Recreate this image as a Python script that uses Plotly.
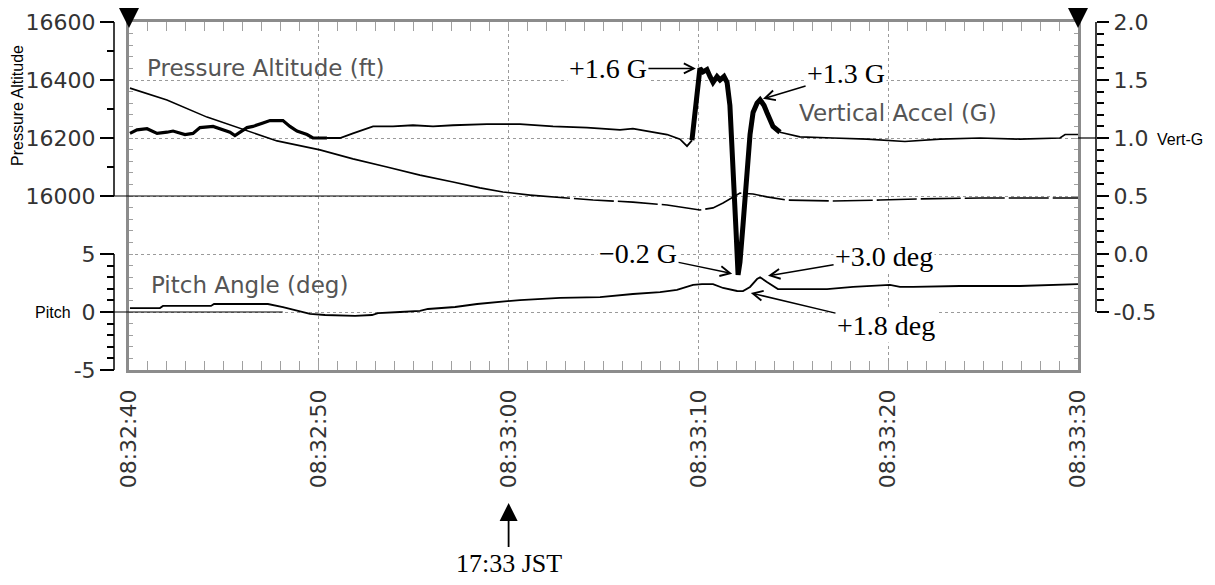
import plotly.graph_objects as go

# ---------------- data (time in seconds after 08:32:40) ----------------
tick_seconds = [0, 10, 20, 30, 40, 50]
tick_labels = ["08:32:40", "08:32:50", "08:33:00", "08:33:10", "08:33:20", "08:33:30"]

# Vertical acceleration (G)
g_t = [0.05, 0.42, 0.95, 1.48, 2.00, 2.32, 2.95, 3.37, 3.74, 4.43, 5.32, 5.58, 6.22, 6.53, 7.06, 7.43,
       8.11, 8.48, 8.85, 9.38, 9.69, 10.43, 11.12, 11.80, 12.86, 13.91, 14.96, 16.02, 17.07, 18.86,
       20.60, 22.34, 24.13, 25.87, 26.55, 28.35, 29.03, 29.40, 29.66, 29.82, 29.98, 30.08, 30.24,
       30.45, 30.61, 30.77, 30.98, 31.14, 31.35, 31.51, 31.66, 31.82, 31.98, 32.09, 32.19, 32.35,
       32.56, 32.72, 32.88, 33.09, 33.25, 33.46, 33.61, 33.77, 33.93, 34.30, 35.35, 37.09, 38.88,
       40.88, 42.73, 44.84, 46.94, 49.05, 49.32, 50.00]
g_val = [1.04, 1.07, 1.08, 1.04, 1.05, 1.06, 1.03, 1.04, 1.09, 1.10, 1.05, 1.02, 1.09, 1.10, 1.13, 1.15,
         1.15, 1.10, 1.06, 1.03, 1.00, 1.00, 1.00, 1.04, 1.10, 1.10, 1.11, 1.10, 1.11, 1.12,
         1.12, 1.10, 1.09, 1.07, 1.08, 1.03, 0.99, 0.93, 0.98, 1.24, 1.54, 1.60, 1.57,
         1.59, 1.53, 1.48, 1.53, 1.50, 1.53, 1.48, 1.28, 0.81, 0.21, -0.18, -0.07, 0.25,
         0.75, 1.03, 1.22, 1.30, 1.33, 1.28, 1.22, 1.16, 1.10, 1.05, 1.01, 1.00, 0.99,
         0.97, 0.99, 1.00, 0.99, 1.00, 1.03, 1.03]

# Pitch angle (deg)
p_t = [0.05, 1.63, 1.79, 4.32, 4.48, 7.32, 8.11, 8.85, 9.54, 10.33, 11.91, 12.80, 13.12, 14.28, 15.33,
       15.75, 17.18, 18.34, 19.44, 20.60, 22.71, 24.82, 26.55, 27.98, 28.87, 29.72, 30.19, 30.77,
       31.30, 32.04, 32.35, 32.72, 33.09, 33.25, 33.61, 34.19, 36.78, 38.15, 40.09, 40.62, 41.31,
       43.78, 46.94, 49.05, 50.00]
p_val = [0.34, 0.34, 0.52, 0.52, 0.69, 0.69, 0.43, 0.09, -0.17, -0.26, -0.34, -0.26, -0.09, 0.00, 0.09,
         0.26, 0.43, 0.69, 0.86, 1.03, 1.21, 1.29, 1.55, 1.72, 1.90, 2.33, 2.41, 2.41,
         2.07, 1.81, 1.80, 2.16, 2.84, 3.00, 2.59, 1.98, 1.98, 2.16, 2.33, 2.16, 2.16,
         2.24, 2.24, 2.33, 2.41]

# Pressure altitude (ft)
a_t = [0.05, 2.00, 4.11, 5.85, 7.80, 10.06, 11.80, 13.59, 15.33, 17.07, 18.49, 19.70, 21.13, 22.34,
       24.45, 26.55, 28.35, 30.08, 30.77, 31.30, 31.82, 32.19, 32.88, 33.61, 34.67, 37.09, 39.57,
       41.68, 44.84, 48.00, 50.00]
a_val = [16372, 16331, 16272, 16234, 16190, 16159, 16128, 16100, 16072, 16048, 16028, 16014, 16003, 15997,
         15986, 15979, 15969, 15952, 15959, 15976, 15997, 16010, 16007, 15997, 15986, 15983, 15986,
         15990, 15993, 15993, 15993]

alt_ticks = [16000, 16200, 16400, 16600]
alt_minor = [16100, 16300, 16500]
pitch_ticks = [-5, 0, 5]
pitch_minor = [-4, -3, -2, -1, 1, 2, 3, 4]
g_ticks = [-0.5, 0.0, 0.5, 1.0, 1.5, 2.0]
g_ticktext = ["-0.5", "0.0", "0.5", "1.0", "1.5", "2.0"]

# ---------------- geometry (page pixels; the page body adds an 8 px offset) ----------------
OFF = 8
W, H = 1215 - OFF, 585 - OFF
PL, PR = 100, 1110          # paper extent (page px)
XL, XR = 129, 1078          # plot area (page px)
YT, YB = 22, 370
X0 = (XL - PL) / (PR - PL)
X1 = (XR - PL) / (PR - PL)
POS_L = (114 - PL) / (PR - PL)
POS_R = (1096 - PL) / (PR - PL)

ALT_RANGE = [15400, 16600]
PITCH_RANGE = [-5, 25]
G_RANGE = [-1.0, 2.0]
T_RANGE = [0, 50]


def py(px):
    return (YB - px) / (YB - YT)


def px_x(px):
    return (px - PL) / (PR - PL)


def val_paper(v, rng):
    return (v - rng[0]) / (rng[1] - rng[0])


def t_paper(t):
    return X0 + (t - T_RANGE[0]) / (T_RANGE[1] - T_RANGE[0]) * (X1 - X0)


def seg(ts, vs, lo, hi):
    idx = [i for i, t in enumerate(ts) if lo <= t <= hi]
    return [ts[i] for i in idx], [vs[i] for i in idx]


fig = go.Figure()

# frame axis dummy
fig.add_trace(go.Scatter(x=[None], y=[None], yaxis="y4", hoverinfo="skip", showlegend=False))

# altitude
for lo, hi, dash in [(0, 21.13, "solid"), (21.13, 50, "40px,4px")]:
    xs, ys = seg(a_t, a_val, lo, hi)
    fig.add_trace(go.Scatter(x=xs, y=ys, mode="lines", yaxis="y",
                             line=dict(color="black", width=1.6, dash=dash),
                             hoverinfo="skip", showlegend=False))

# pitch
fig.add_trace(go.Scatter(x=p_t, y=p_val, mode="lines", yaxis="y3",
                         line=dict(color="black", width=1.8), hoverinfo="skip", showlegend=False))

# vertical G (thicker where the trace is dense)
for lo, hi, w in [(0, 10.43, 3.2), (10.43, 29.66, 1.8), (29.66, 34.30, 5.0), (34.30, 50, 1.6)]:
    xs, ys = seg(g_t, g_val, lo, hi)
    fig.add_trace(go.Scatter(x=xs, y=ys, mode="lines", yaxis="y2",
                             line=dict(color="black", width=w),
                             hoverinfo="skip", showlegend=False))

tickfont = dict(family="DejaVu Sans", size=22, color="#333333")
grid = dict(showgrid=True, gridcolor="#9a9a9a", griddash="dot", gridwidth=1)

fig.update_layout(
    template="none",
    width=W, height=H,
    margin=dict(l=PL - OFF, r=W - (PR - OFF), t=YT - OFF, b=H - (YB - OFF)),
    plot_bgcolor="white", paper_bgcolor="white",
    showlegend=False,
    xaxis=dict(domain=[X0, X1], range=T_RANGE, tickmode="array", tickvals=tick_seconds,
               ticktext=tick_labels, tickangle=-90, ticks="inside", ticklen=9,
               tickcolor="#a0a0a0", tickwidth=1, showline=True, linecolor="#8c8c8c",
               linewidth=2.5, mirror="ticks", zeroline=False, tickfont=tickfont,
               ticklabelstandoff=8, automargin=False,
               minor=dict(dtick=1, tick0=0, ticks="inside", ticklen=9, tickcolor="#a0a0a0",
                          tickwidth=1, showgrid=False),
               **grid),
    yaxis=dict(domain=[0, 1], range=ALT_RANGE, anchor="free", position=POS_L, side="left",
               tickmode="array", tickvals=alt_ticks, ticktext=[str(v) for v in alt_ticks],
               ticks="outside", ticklen=14, tickwidth=1.5, tickcolor="black", showline=False,
               zeroline=False, tickfont=tickfont, automargin=False,
               minor=dict(tickmode="array", tickvals=alt_minor, ticks="outside", ticklen=7,
                          tickwidth=1.5, tickcolor="black", showgrid=False),
               **grid),
    yaxis3=dict(overlaying="y", range=PITCH_RANGE, anchor="free", position=POS_L, side="left",
                tickmode="array", tickvals=pitch_ticks, ticktext=[str(v) for v in pitch_ticks],
                ticks="outside", ticklen=14, tickwidth=1.5, tickcolor="black", showline=False,
                zeroline=False, tickfont=tickfont, automargin=False,
                minor=dict(tickmode="array", tickvals=pitch_minor, ticks="outside", ticklen=7,
                           tickwidth=1.5, tickcolor="black", showgrid=False),
                **grid),
    yaxis2=dict(overlaying="y", range=G_RANGE, anchor="free", position=POS_R, side="right",
                tickmode="array", tickvals=g_ticks, ticktext=g_ticktext,
                ticks="outside", ticklen=12, tickwidth=1.5, tickcolor="black", showline=False,
                showgrid=False, zeroline=False, tickfont=tickfont, automargin=False,
                minor=dict(tickmode="array",
                           tickvals=[round(-0.5 + 0.1 * i, 1) for i in range(26) if i % 5],
                           ticks="outside", ticklen=7, tickwidth=1.5, tickcolor="black",
                           showgrid=False)),
    yaxis4=dict(overlaying="y", anchor="x", side="left", range=G_RANGE, tickmode="linear",
                tick0=0, dtick=0.1, ticks="inside", ticklen=4, tickcolor="#a0a0a0", tickwidth=1,
                showline=True, linecolor="#8c8c8c", linewidth=2.5, mirror="ticks",
                showticklabels=False, showgrid=False, zeroline=False, automargin=False),
)

shapes = []
line_k = dict(color="black", width=1.5)
# axis spines
shapes.append(dict(type="line", xref="paper", yref="paper", x0=POS_L, x1=POS_L,
                   y0=val_paper(alt_ticks[0], ALT_RANGE), y1=val_paper(alt_ticks[-1], ALT_RANGE), line=line_k))
shapes.append(dict(type="line", xref="paper", yref="paper", x0=POS_L, x1=POS_L,
                   y0=val_paper(pitch_ticks[0], PITCH_RANGE), y1=val_paper(pitch_ticks[-1], PITCH_RANGE), line=line_k))
shapes.append(dict(type="line", xref="paper", yref="paper", x0=POS_R, x1=POS_R,
                   y0=val_paper(g_ticks[0], G_RANGE), y1=val_paper(g_ticks[-1], G_RANGE), line=line_k))
# reference base lines
ref_k = dict(color="black", width=1.2)
shapes.append(dict(type="line", xref="paper", yref="paper", x0=POS_L, x1=t_paper(19.7),
                   y0=val_paper(16000, ALT_RANGE), y1=val_paper(16000, ALT_RANGE), line=ref_k))
shapes.append(dict(type="line", xref="paper", yref="paper", x0=POS_L, x1=t_paper(8.1),
                   y0=val_paper(0, PITCH_RANGE), y1=val_paper(0, PITCH_RANGE), line=ref_k))
shapes.append(dict(type="line", xref="paper", yref="paper", x0=t_paper(50), x1=POS_R,
                   y0=val_paper(1.0, G_RANGE), y1=val_paper(1.0, G_RANGE), line=ref_k))
fig.update_layout(shapes=shapes)

ann = []
lab = dict(family="DejaVu Sans", size=23, color="#555555")
ann.append(dict(text="Pressure Altitude (ft)", xref="paper", yref="paper", x=px_x(145), y=py(68),
                xanchor="left", yanchor="middle", showarrow=False, font=lab))
ann.append(dict(text="Vertical Accel (G)", xref="paper", yref="paper", x=px_x(797), y=py(113),
                xanchor="left", yanchor="middle", showarrow=False, font=lab))
ann.append(dict(text="Pitch Angle (deg)", xref="paper", yref="paper", x=px_x(149), y=py(285),
                xanchor="left", yanchor="middle", showarrow=False, font=lab))
sans = dict(family="Liberation Sans", size=16, color="black")
ann.append(dict(text="Pressure Altitude", xref="paper", yref="paper", x=px_x(17), y=py(106),
                textangle=-90, xanchor="center", yanchor="middle", showarrow=False, font=sans))
ann.append(dict(text="Pitch", xref="paper", yref="paper", x=px_x(33), y=py(312),
                xanchor="left", yanchor="middle", showarrow=False, font=sans))
ann.append(dict(text="Vert-G", xref="paper", yref="paper", x=px_x(1155), y=py(139),
                xanchor="left", yanchor="middle", showarrow=False, font=sans))

serif = dict(family="Liberation Serif", size=28, color="black")
arr = dict(showarrow=True, arrowhead=5, arrowwidth=1.5, arrowsize=1.3, arrowcolor="black",
           bgcolor="white", font=serif)

i_max = max(range(len(g_val)), key=lambda i: g_val[i])
i_min = min(range(len(g_val)), key=lambda i: g_val[i])
i_sec = max([i for i, t in enumerate(g_t) if 32.8 <= t <= 34.0], key=lambda i: g_val[i])
ip_max = max(range(len(p_val)), key=lambda i: p_val[i])
ip_min = min([i for i, t in enumerate(p_t) if 31.0 <= t <= 33.0], key=lambda i: p_val[i])

ann.append(dict(text="+1.6 G", x=g_t[i_max], y=g_val[i_max], xref="x", yref="y2",
                ax=-92, ay=0, standoff=4, **arr))
ann.append(dict(text="+1.3 G", x=g_t[i_sec], y=g_val[i_sec], xref="x", yref="y2",
                ax=86, ay=-26, standoff=3, **arr))
ann.append(dict(text="\u22120.2 G", x=g_t[i_min], y=g_val[i_min], xref="x", yref="y2",
                ax=-100, ay=-21, standoff=6, **arr))
ann.append(dict(text="+3.0 deg", x=p_t[ip_max], y=p_val[ip_max], xref="x", yref="y3",
                ax=124, ay=-21, standoff=8, **arr))
ann.append(dict(text="+1.8 deg", x=p_t[ip_min], y=p_val[ip_min], xref="x", yref="y3",
                ax=143, ay=34, standoff=8, **arr))

# JST marker
ann.append(dict(text="17:33 JST", x=tick_seconds[2], y=py(503), xref="x", yref="paper",
                ax=0, ay=60, showarrow=True, arrowhead=2, arrowwidth=1.8, arrowsize=2.0,
                arrowcolor="black", font=dict(family="Liberation Serif", size=26, color="black")))
# top markers at window start / end
for tv in (tick_seconds[0], tick_seconds[-1]):
    ann.append(dict(text=" ", x=tv, y=py(28), xref="x", yref="paper", ax=0, ay=-36,
                    showarrow=True, arrowhead=2, arrowwidth=2.2, arrowsize=2.0,
                    arrowcolor="black", font=dict(size=1)))

fig.update_layout(annotations=ann)
fig.write_html("out.html")
